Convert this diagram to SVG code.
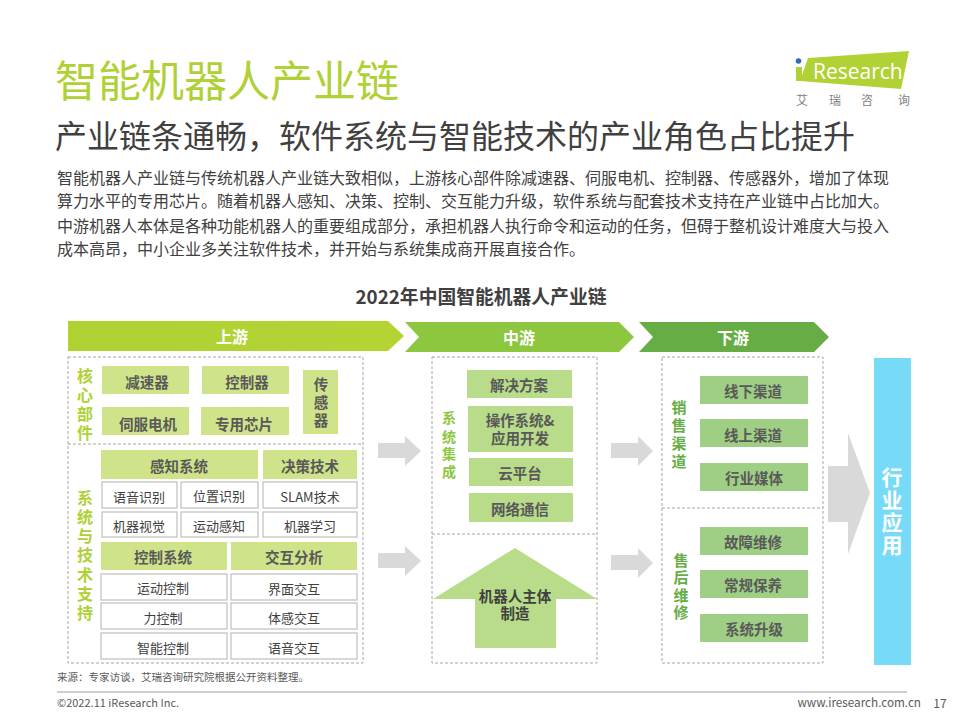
<svg xmlns="http://www.w3.org/2000/svg" width="960" height="720" viewBox="0 0 960 720">
<style>
text{font-family:"Noto Sans CJK SC","Noto Sans",sans-serif}
.c{text-anchor:middle;dominant-baseline:central}
.dash{fill:none;stroke:#A6A6A6;stroke-width:1;stroke-dasharray:3 2}
.b1{fill:#CFE48A}.b2{fill:#B8DC8A}.b3{fill:#9FCF85}
.w{fill:#fff;stroke:#BFBFBF;stroke-width:1.2}
.t{font-size:14.5px;font-weight:700;fill:#595959}
.n{font-size:13px;fill:#404040}
.h{font-size:16px;font-weight:700;fill:#fff}
.v{font-size:16px;font-weight:700}
.v14{font-size:14px;font-weight:700}
.v15{font-size:15px;font-weight:700}
.g{fill:#D9D9D9}
.body{font-size:16px;fill:#404040}
</style>
<defs>
<linearGradient id="g1" x1="0" x2="1" y1="0" y2="0"><stop offset="0" stop-color="#AFD132"/><stop offset="1" stop-color="#B4D434"/></linearGradient>
</defs>
<g id="header">
<text x="55" y="97" font-size="43" fill="#AFD136">智能机器人产业链</text>
<text x="55" y="148" font-size="32" fill="#404040">产业链条通畅，软件系统与智能技术的产业角色占比提升</text>
<text x="57" y="184" class="body">智能机器人产业链与传统机器人产业链大致相似，上游核心部件除减速器、伺服电机、控制器、传感器外，增加了体现</text>
<text x="57" y="207" class="body">算力水平的专用芯片。随着机器人感知、决策、控制、交互能力升级，软件系统与配套技术支持在产业链中占比加大。</text>
<text x="57" y="232" class="body">中游机器人本体是各种功能机器人的重要组成部分，承担机器人执行命令和运动的任务，但碍于整机设计难度大与投入</text>
<text x="57" y="255" class="body">成本高昂，中小企业多关注软件技术，并开始与系统集成商开展直接合作。</text>
</g>
<g id="logo">
<polygon points="808,58 909,51 901,89 800,81" fill="#B1D235"/>
<rect x="796" y="67" width="6" height="14" fill="#AFD136"/>
<circle cx="798.500" cy="61" r="2.800" fill="#2E6DB4"/>
<text x="813" y="79" font-size="21" fill="#fff" style="font-family:'Open Sans',sans-serif">Research</text>
<text x="796" y="105" font-size="12" fill="#7F7F7F">艾</text>
<text x="829" y="105" font-size="12" fill="#7F7F7F">瑞</text>
<text x="861" y="105" font-size="12" fill="#7F7F7F">咨</text>
<text x="898" y="105" font-size="12" fill="#7F7F7F">询</text>
</g>
<text id="chart-title" x="481" y="295" class="c" font-size="18.800" font-weight="700" fill="#404040">2022年中国智能机器人产业链</text>
<g id="stage-up"><polygon points="68,321 388,321 404,336 388,351 68,351" fill="url(#g1)"/><text x="232" y="336" class="c h">上游</text></g>
<g id="stage-mid"><polygon points="405,322 619,322 634,337 619,352 405,352 419,337" fill="#8DC63F"/><text x="519" y="337" class="c h">中游</text></g>
<g id="stage-down"><polygon points="639,322 814,322 829,337 814,352 639,352 653,337" fill="#66AD45"/><text x="733" y="337" class="c h">下游</text></g>
<g id="connectors">
<polygon class="g" points="378,443 405,443 405,436 421,451 405,466 405,458 378,458"/>
<polygon class="g" points="378,553 405,553 405,546 421,561 405,576 405,568 378,568"/>
<polygon class="g" points="611,443 638,443 638,436 653,451 638,466 638,458 611,458"/>
<polygon class="g" points="611,555 638,555 638,548 653,563 638,578 638,570 611,570"/>
<polygon class="g" points="828,466 848,466 848,433 870,493 848,554 848,522 828,522"/>
</g>
<g id="upstream">
<rect class="dash" x="68" y="357" width="295" height="306"/>
<line class="dash" x1="68" y1="444" x2="363" y2="444"/>
<text class="v" fill="#AFD136" text-anchor="middle" x="85"><tspan x="85" y="382">核</tspan><tspan x="85" y="401">心</tspan><tspan x="85" y="420">部</tspan><tspan x="85" y="439">件</tspan></text>
<text class="v" fill="#AFD136" text-anchor="middle" x="85"><tspan x="85" y="504">系</tspan><tspan x="85" y="523">统</tspan><tspan x="85" y="542">与</tspan><tspan x="85" y="561">技</tspan><tspan x="85" y="581">术</tspan><tspan x="85" y="600">支</tspan><tspan x="85" y="619">持</tspan></text>
</g>
<g id="n-jiansuqi"><rect class="b1" x="102" y="366" width="87" height="28"/><text x="147" y="381" class="c t">减速器</text></g>
<g id="n-kongzhiqi"><rect class="b1" x="202" y="366" width="87" height="28"/><text x="247" y="381" class="c t">控制器</text></g>
<g id="n-sifu"><rect class="b1" x="102" y="407" width="87" height="28"/><text x="148" y="423" class="c t">伺服电机</text></g>
<g id="n-xinpian"><rect class="b1" x="201" y="407" width="88" height="28"/><text x="244" y="423" class="c t">专用芯片</text></g>
<g id="n-chuanganqi"><rect class="b1" x="303" y="370" width="35" height="64"/><text class="t" text-anchor="middle"><tspan x="321" y="390">传</tspan><tspan x="321" y="408">感</tspan><tspan x="321" y="426">器</tspan></text></g>
<g id="n-ganzhi"><rect class="b1" x="101" y="450" width="157" height="29"/><text x="179" y="465" class="c t">感知系统</text></g>
<g id="n-juece"><rect class="b1" x="263" y="450" width="94" height="29"/><text x="310" y="465" class="c t">决策技术</text></g>
<g id="n-yuyin"><rect class="w" x="102" y="482" width="75" height="26"/><text x="139" y="496" class="c n">语音识别</text></g>
<g id="n-weizhi"><rect class="w" x="181" y="482" width="77" height="26"/><text x="219" y="495" class="c n">位置识别</text></g>
<g id="n-slam"><rect class="w" x="263" y="482" width="94" height="26"/><text x="310" y="496" class="c n">SLAM技术</text></g>
<g id="n-shijue"><rect class="w" x="102" y="512" width="75" height="25"/><text x="139" y="525" class="c n">机器视觉</text></g>
<g id="n-yundongganzhi"><rect class="w" x="181" y="512" width="77" height="25"/><text x="219" y="525" class="c n">运动感知</text></g>
<g id="n-xuexi"><rect class="w" x="263" y="512" width="94" height="25"/><text x="310" y="525" class="c n">机器学习</text></g>
<g id="n-kongzhixitong"><rect class="b1" x="101" y="542" width="126" height="28"/><text x="163" y="556" class="c t">控制系统</text></g>
<g id="n-jiaohu"><rect class="b1" x="231" y="542" width="126" height="28"/><text x="294" y="556" class="c t">交互分析</text></g>
<g id="n-yundongkongzhi"><rect class="w" x="101" y="574" width="126" height="26"/><text x="163" y="587" class="c n">运动控制</text></g>
<g id="n-jiemian"><rect class="w" x="231" y="574" width="126" height="26"/><text x="294" y="588" class="c n">界面交互</text></g>
<g id="n-li"><rect class="w" x="101" y="603" width="126" height="26"/><text x="163" y="617" class="c n">力控制</text></g>
<g id="n-tigan"><rect class="w" x="231" y="603" width="126" height="26"/><text x="294" y="617" class="c n">体感交互</text></g>
<g id="n-zhineng"><rect class="w" x="101" y="633" width="126" height="26"/><text x="163" y="647" class="c n">智能控制</text></g>
<g id="n-yuyinjiaohu"><rect class="w" x="231" y="633" width="126" height="26"/><text x="294" y="647" class="c n">语音交互</text></g>
<g id="midstream">
<rect class="dash" x="432" y="357" width="165" height="306"/>
<line class="dash" x1="432" y1="534" x2="597" y2="534"/>
<text class="v14" fill="#8DC63F" text-anchor="middle"><tspan x="449" y="423">系</tspan><tspan x="449" y="442">统</tspan><tspan x="449" y="459">集</tspan><tspan x="449" y="477">成</tspan></text>
</g>
<g id="n-jiejue"><rect class="b2" x="467" y="370" width="105" height="28"/><text x="519" y="384" class="c t">解决方案</text></g>
<g id="n-caozuo"><rect class="b2" x="468" y="406" width="105" height="46"/><text class="t" text-anchor="middle"><tspan x="520" y="426">操作系统&amp;</tspan><tspan x="520" y="444">应用开发</tspan></text></g>
<g id="n-yun"><rect class="b2" x="469" y="458" width="104" height="28"/><text x="520" y="472" class="c t">云平台</text></g>
<g id="n-wangluo"><rect class="b2" x="469" y="493" width="104" height="29"/><text x="520" y="508" class="c t">网络通信</text></g>
<g id="n-zhuti"><polygon class="b2" points="515,548 597,599 556,599 556,648 475,648 475,599 433,599"/><text class="t" text-anchor="middle" style="fill:#404040"><tspan x="515" y="602">机器人主体</tspan><tspan x="515" y="619">制造</tspan></text></g>
<g id="downstream">
<rect class="dash" x="662" y="357" width="161" height="306"/>
<line class="dash" x1="662" y1="508" x2="823" y2="508"/>
<text class="v15" fill="#66AD45" text-anchor="middle"><tspan x="679" y="413">销</tspan><tspan x="679" y="431">售</tspan><tspan x="679" y="449">渠</tspan><tspan x="679" y="467">道</tspan></text>
<text class="v15" fill="#66AD45" text-anchor="middle"><tspan x="681" y="566">售</tspan><tspan x="681" y="583">后</tspan><tspan x="681" y="601">维</tspan><tspan x="681" y="618">修</tspan></text>
</g>
<g id="n-xianxia"><rect class="b3" x="700" y="376" width="108" height="28"/><text x="753" y="390" class="c t">线下渠道</text></g>
<g id="n-xianshang"><rect class="b3" x="700" y="419" width="108" height="28"/><text x="753" y="434" class="c t">线上渠道</text></g>
<g id="n-meiti"><rect class="b3" x="700" y="463" width="108" height="28"/><text x="754" y="477" class="c t">行业媒体</text></g>
<g id="n-guzhang"><rect class="b3" x="700" y="527" width="108" height="28"/><text x="753" y="541" class="c t">故障维修</text></g>
<g id="n-changgui"><rect class="b3" x="700" y="570" width="108" height="28"/><text x="753" y="584" class="c t">常规保养</text></g>
<g id="n-shengji"><rect class="b3" x="700" y="614" width="108" height="28"/><text x="754" y="628" class="c t">系统升级</text></g>
<g id="n-hangye"><rect x="874" y="358" width="37" height="307" fill="#77DBF8"/><text font-size="21" font-weight="700" fill="#fff" text-anchor="middle"><tspan x="892" y="485">行</tspan><tspan x="892" y="508">业</tspan><tspan x="892" y="530">应</tspan><tspan x="892" y="553">用</tspan></text></g>
<g id="footer">
<text x="57" y="681" font-size="10.500" fill="#595959">来源：专家访谈，艾瑞咨询研究院根据公开资料整理。</text>
<line x1="57" y1="692" x2="907" y2="692" stroke="#BFBFBF" stroke-width="1.500"/>
<text x="57" y="707" font-size="11" fill="#595959">©2022.11 iResearch Inc.</text>
<text x="921" y="707" font-size="11.700" fill="#595959" text-anchor="end">www.iresearch.com.cn</text>
<text x="940" y="708" font-size="12" fill="#595959" text-anchor="middle">17</text>
</g>
</svg>
